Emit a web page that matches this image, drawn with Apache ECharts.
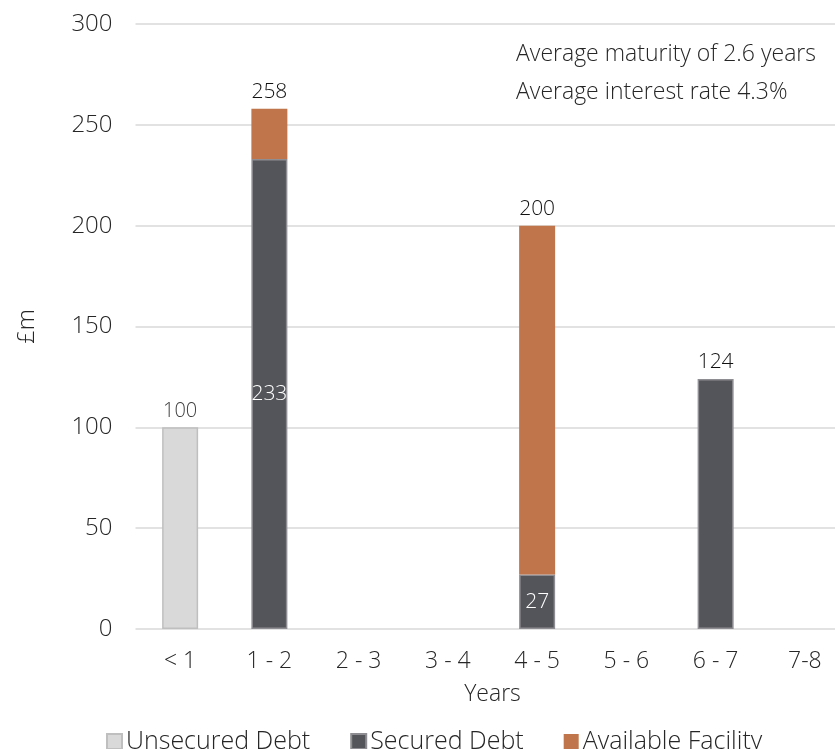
<!DOCTYPE html>
<html>
<head>
<meta charset="utf-8">
<script src="https://cdn.jsdelivr.net/npm/echarts@6/dist/echarts.min.js"></script>
<style>
  html, body { margin: 0; padding: 0; background: #fff; }
  #chart { width: 835px; height: 749px; }
</style>
</head>
<body>
<div id="chart"></div>
<script>
// Debt maturity profile (£m) by years to maturity
const categories = ['< 1', '1 - 2', '2 - 3', '3 - 4', '4 - 5', '5 - 6', '6 - 7', '7-8'];
const unsecuredDebt = [100, null, null, null, null, null, null, null];
const securedDebt = [null, 233, null, null, 27, null, 124, null];
const availableFacility = [null, 25, null, null, 173, null, null, null];
const yTicks = { min: 0, max: 300, interval: 50 };
const notes = ['Average maturity of 2.6 years', 'Average interest rate 4.3%'];

const FONT = 'Open Sans';
const W = 300;
const TEXT = '#262626';

const totals = categories.map((_, i) =>
  (unsecuredDebt[i] || 0) + (securedDebt[i] || 0) + (availableFacility[i] || 0));

// Which series is the top of each stack
const topSeries = categories.map((_, i) =>
  availableFacility[i] != null ? 'available' : securedDebt[i] != null ? 'secured' :
  unsecuredDebt[i] != null ? 'unsecured' : null);

const totalLabel = (color, size) => ({
  show: true, position: 'top', distance: 6, color: color,
  fontFamily: FONT, fontWeight: W, fontSize: size
});

const unsecuredData = unsecuredDebt.map((v, i) => v == null ? null : {
  value: v, label: Object.assign(totalLabel('#404040', 20), { formatter: String(totals[i]) })
});
const securedData = securedDebt.map((v, i) => {
  if (v == null) return null;
  if (topSeries[i] === 'secured') {
    return { value: v, label: Object.assign(totalLabel('#111', 21), { formatter: String(totals[i]) }) };
  }
  return { value: v, label: { show: true, position: 'inside', color: '#fff',
    fontFamily: FONT, fontWeight: W, fontSize: 21, formatter: String(v) } };
});
const availableData = availableFacility.map((v, i) => v == null ? null : {
  value: v, label: Object.assign(totalLabel('#111', 21), { formatter: String(totals[i]) })
});

const chart = echarts.init(document.getElementById('chart'), null, { renderer: 'canvas' });
chart.setOption({
  animation: false,
  backgroundColor: '#ffffff',
  textStyle: { fontFamily: FONT, fontWeight: W, color: TEXT },
  // the plot runs past the right edge of the canvas
  grid: { left: 135.5, width: 714, top: 24, bottom: 120, outerBoundsMode: 'none', containLabel: false },
  legend: {
    left: 101, top: 724, itemGap: 40, itemWidth: 15, itemHeight: 15,
    icon: 'rect',
    textStyle: { fontFamily: FONT, fontWeight: W, fontSize: 25, color: TEXT, padding: [0, 0, 0, -1] },
    data: ['Unsecured Debt', 'Secured Debt', 'Available Facility']
  },
  xAxis: {
    type: 'category', data: categories,
    name: 'Years', nameLocation: 'middle', nameGap: 54,
    nameTextStyle: { fontFamily: FONT, fontWeight: W, fontSize: 23, color: TEXT },
    axisLine: { show: false }, axisTick: { show: false },
    axisLabel: { margin: 21, fontFamily: FONT, fontWeight: W, fontSize: 23, color: TEXT }
  },
  yAxis: {
    type: 'value', min: yTicks.min, max: yTicks.max, interval: yTicks.interval,
    name: '£m', nameLocation: 'middle', nameGap: 96, nameRotate: 90,
    nameTextStyle: { fontFamily: FONT, fontWeight: W, fontSize: 24, color: TEXT },
    axisLine: { show: false }, axisTick: { show: false },
    axisLabel: { margin: 23, fontFamily: FONT, fontWeight: W, fontSize: 24, color: TEXT },
    splitLine: { lineStyle: { color: '#d9d9d9', width: 1.5 } }
  },
  graphic: notes.map((t, i) => ({
    type: 'text', left: 516, top: 43 + i * 38,
    style: { text: t, fontFamily: FONT, fontWeight: W, fontSize: 23, fill: TEXT }
  })),
  series: [
    { name: 'Unsecured Debt', type: 'bar', stack: 'debt', barWidth: 36, data: unsecuredData,
      itemStyle: { color: '#d9d9d9', borderColor: '#bfbfbf', borderWidth: 1.5 } },
    { name: 'Secured Debt', type: 'bar', stack: 'debt', barWidth: 36, data: securedData,
      itemStyle: { color: '#54555a', borderColor: '#8e8e92', borderWidth: 1.5 } },
    { name: 'Available Facility', type: 'bar', stack: 'debt', barWidth: 36, data: availableData,
      itemStyle: { color: '#c0754a', borderColor: '#c0754a', borderWidth: 0 } }
  ]
});
</script>
</body>
</html>
